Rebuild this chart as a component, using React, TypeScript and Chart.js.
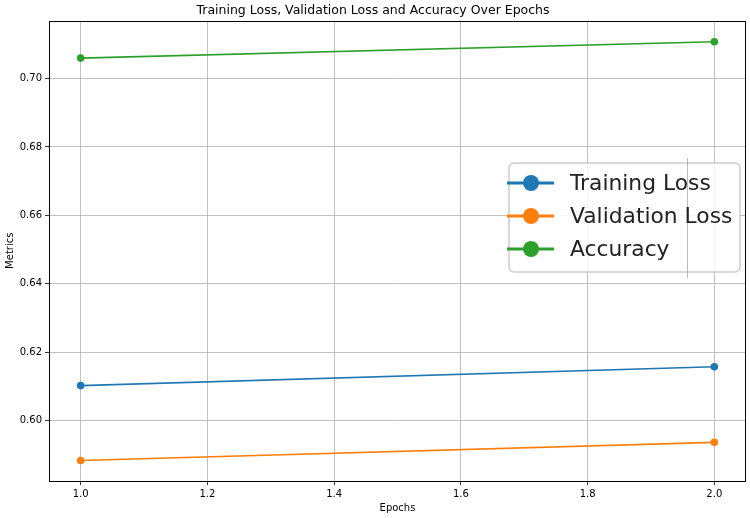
import React, { useEffect, useRef } from "react";
import { Chart, registerables } from "chart.js";

Chart.register(...registerables);

const epochs = [1, 2];
const trainingLoss = [0.6102, 0.6157];
const validationLoss = [0.5883, 0.5936];
const accuracy = [0.706, 0.7108];
const xTicks = [1.0, 1.2, 1.4, 1.6, 1.8, 2.0];
const yTicks = [0.6, 0.62, 0.64, 0.66, 0.68, 0.7];
const seriesNames = ["Training Loss", "Validation Loss", "Accuracy"];
const seriesColors = ["#1f77b4", "#ff7f0e", "#2ca02c"];

const FONT = "'DejaVu Sans', sans-serif";

const spinePlugin = {
  id: "spines",
  afterDatasetsDraw(chart: any) {
    const { ctx, chartArea: a } = chart;
    ctx.save();
    ctx.strokeStyle = "#000";
    ctx.lineWidth = 1;
    ctx.strokeRect(Math.round(a.left) + 0.5, Math.round(a.top) + 0.5, Math.round(a.right - a.left) - 1, Math.round(a.bottom - a.top) - 1);
    ctx.restore();
  },
};

const legendPlugin = {
  id: "bigLegend",
  afterDraw(chart: any) {
    const { ctx } = chart;
    ctx.save();
    const bx = 509, by = 163, bw = 231, bh = 109;
    ctx.beginPath();
    (ctx as any).roundRect(bx, by, bw, bh, 5);
    ctx.fillStyle = "rgba(255,255,255,0.85)";
    ctx.fill();
    ctx.strokeStyle = "rgba(200,200,200,0.9)";
    ctx.lineWidth = 1.5;
    ctx.stroke();
    ctx.beginPath();
    ctx.moveTo(687.5, 158);
    ctx.lineTo(687.5, 278);
    ctx.strokeStyle = "rgba(160,160,160,0.7)";
    ctx.lineWidth = 1;
    ctx.stroke();
    seriesNames.forEach((name, i) => {
      const y = 183 + i * 33;
      ctx.beginPath();
      ctx.moveTo(507, y);
      ctx.lineTo(554, y);
      ctx.strokeStyle = seriesColors[i];
      ctx.lineWidth = 3.2;
      ctx.stroke();
      ctx.beginPath();
      ctx.arc(531, y, 8, 0, Math.PI * 2);
      ctx.fillStyle = seriesColors[i];
      ctx.fill();
      ctx.fillStyle = "#222";
      ctx.font = `21.8px ${FONT}`;
      ctx.textBaseline = "middle";
      ctx.textAlign = "left";
      ctx.fillText(name, 570, y + 1);
    });
    ctx.restore();
  },
};

export default function App() {
  const ref = useRef<HTMLCanvasElement | null>(null);
  useEffect(() => {
    document.body.style.margin = "0";
    const values = [trainingLoss, validationLoss, accuracy];
    const chart = new Chart(ref.current as HTMLCanvasElement, {
      type: "line",
      data: {
        datasets: seriesNames.map((name, i) => ({
          label: name,
          data: epochs.map((e, j) => ({ x: e, y: values[i][j] })),
          borderColor: seriesColors[i],
          backgroundColor: seriesColors[i],
          borderWidth: 1.6,
          pointRadius: 3.8,
          pointBorderWidth: 0,
          pointBackgroundColor: seriesColors[i],
          tension: 0,
        })),
      },
      options: {
        animation: false,
        responsive: false,
        layout: { padding: { left: 0, right: 4, top: 0, bottom: 0 } },
        plugins: {
          legend: { display: false },
          tooltip: { enabled: false },
          title: {
            display: true,
            text: "Training Loss, Validation Loss and Accuracy Over Epochs",
            color: "#000",
            font: { family: FONT, size: 12.5, weight: "normal" },
            padding: { top: 3.5, bottom: 2 },
          },
        },
        scales: {
          x: {
            type: "linear",
            min: 0.95,
            max: 2.05,
            afterBuildTicks: (s: any) => {
              s.ticks = xTicks.map((v) => ({ value: v }));
            },
            afterFit: (s: any) => {
              s.height = 37;
            },
            ticks: {
              color: "#000",
              font: { family: FONT, size: 10 },
              padding: 3,
              maxRotation: 0,
              autoSkip: false,
              callback: (v: any) => Number(v).toFixed(1),
            },
            grid: { color: "#b0b0b0", lineWidth: 0.8, tickColor: "#000", tickLength: 4, drawTicks: true },
            border: { display: false },
            title: {
              display: true,
              text: "Epochs",
              color: "#000",
              font: { family: FONT, size: 10 },
              padding: { top: 0, bottom: 4 },
            },
          },
          y: {
            type: "linear",
            min: 0.5823,
            max: 0.717,
            afterBuildTicks: (s: any) => {
              s.ticks = yTicks.map((v) => ({ value: v }));
            },
            afterFit: (s: any) => {
              s.width = 49;
            },
            ticks: {
              color: "#000",
              font: { family: FONT, size: 10 },
              padding: 3,
              autoSkip: false,
              callback: (v: any) => Number(v).toFixed(2),
            },
            grid: { color: "#b0b0b0", lineWidth: 0.8, tickColor: "#000", tickLength: 4, drawTicks: true },
            border: { display: false },
            title: {
              display: true,
              text: "Metrics",
              color: "#000",
              font: { family: FONT, size: 10 },
              padding: { top: 4, bottom: 0 },
            },
          },
        },
      },
      plugins: [spinePlugin, legendPlugin],
    } as any);
    return () => chart.destroy();
  }, []);
  return (
    <div style={{ position: "absolute", left: 0, top: 0, width: 750, height: 518 }}>
      <canvas ref={ref} width={750} height={518} style={{ width: 750, height: 518 }} />
    </div>
  );
}
